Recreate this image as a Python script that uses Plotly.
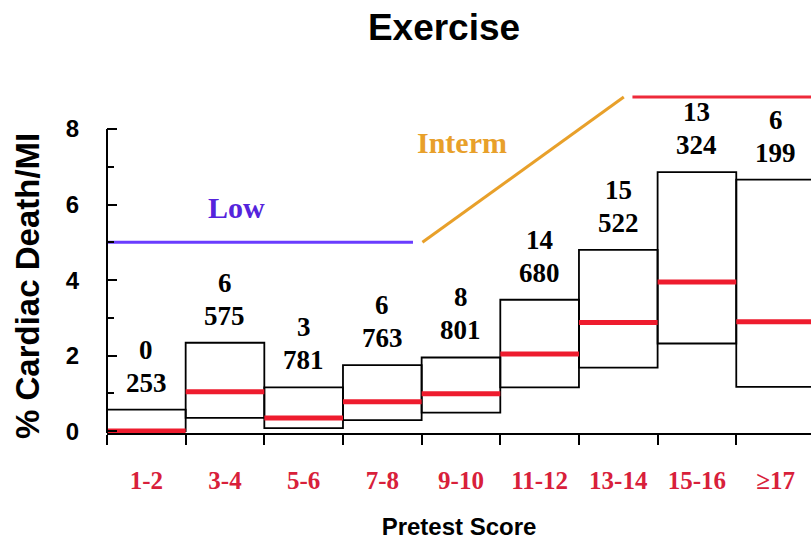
import plotly.graph_objects as go

# ---- data ----
categories = ["1-2", "3-4", "5-6", "7-8", "9-10", "11-12", "13-14", "15-16", "≥17"]
events = [0, 6, 3, 6, 8, 14, 15, 13, 6]
patients = [253, 575, 781, 763, 801, 680, 522, 324, 199]
rate = [0.0, 1.04, 0.35, 0.78, 0.99, 2.04, 2.88, 3.95, 2.90]
ci_lower = [0.0, 0.35, 0.08, 0.29, 0.49, 1.16, 1.68, 2.32, 1.17]
ci_upper = [0.57, 2.34, 1.16, 1.75, 1.95, 3.48, 4.80, 6.86, 6.66]

risk_names = ["Low", "Interm", "High"]
risk_x = [[-0.5, 3.39], [3.51, 6.07], [6.18, 8.45]]
risk_y = [[5.0, 5.0], [5.0, 8.85], [8.85, 8.85]]
risk_label_x = [1.14, 4.01, 7.23]
risk_label_y = [5.92, 7.64, 9.63]
y_ticks = [0, 2, 4, 6, 8]
y_minor = [1, 3, 5, 7]
y_title = "% Cardiac Death/MI"
x_title = "Pretest Score"
chart_title = "Exercise"

# ---- styles ----
risk_line_colors = ["#6a3cff", "#e8a02a", "#ee2a3a"]
risk_text_colors = ["#5524dc", "#e8a02a", "#cc1f3a"]
RED = "#ee1c2e"
SERIF = "Liberation Serif"
SANS = "Liberation Sans"

idx = list(range(len(categories)))
fig = go.Figure()

# CI boxes
fig.add_trace(go.Bar(
    x=idx,
    y=[u - l for u, l in zip(ci_upper, ci_lower)],
    base=ci_lower,
    width=1,
    marker=dict(color="rgba(0,0,0,0)", line=dict(color="black", width=1.8)),
    hoverinfo="skip",
))

# point estimates (red lines)
rx, ry = [], []
for i, r in zip(idx, rate):
    rx += [i - 0.5, i + 0.5, None]
    ry += [r, r, None]
fig.add_trace(go.Scatter(x=rx, y=ry, mode="lines",
                         line=dict(color=RED, width=5), hoverinfo="skip"))

# risk group lines
for name, xs, ys, c in zip(risk_names, risk_x, risk_y, risk_line_colors):
    fig.add_trace(go.Scatter(x=xs, y=ys, mode="lines",
                             line=dict(color=c, width=3), hoverinfo="skip"))

annotations = []
for name, lx, ly, c in zip(risk_names, risk_label_x, risk_label_y, risk_text_colors):
    annotations.append(dict(x=lx, y=ly, xref="x", yref="y", text=name,
                            showarrow=False,
                            font=dict(family=SERIF, size=30, color=c, weight="bold")))

for i, e, n, u in zip(idx, events, patients, ci_upper):
    annotations.append(dict(x=i, y=u, xref="x", yref="y", text=str(n),
                            showarrow=False, yanchor="middle", yshift=27,
                            font=dict(family=SERIF, size=27, color="black", weight="bold")))
    annotations.append(dict(x=i, y=u, xref="x", yref="y", text=str(e),
                            showarrow=False, yanchor="middle", yshift=60,
                            font=dict(family=SERIF, size=27, color="black", weight="bold")))

# y-axis title (placed as rotated text, slightly below the plot's centre as in the original)
annotations.append(dict(x=-80 / 704, y=147 / 353, xref="paper", yref="paper",
                        text=y_title, textangle=-90, showarrow=False,
                        xanchor="center", yanchor="middle",
                        font=dict(family=SANS, size=33, color="black", weight="bold")))

fig.update_layout(
    width=811, height=550,
    margin=dict(l=107, r=0, t=80, b=117),
    paper_bgcolor="white", plot_bgcolor="white",
    showlegend=False, hovermode=False,
    title=dict(text=chart_title, x=444 / 811, xanchor="center", y=1 - 27 / 550,
               yanchor="middle", automargin=False,
               font=dict(family=SANS, size=37, color="black", weight="bold")),
    annotations=annotations,
    shapes=[dict(type="line", xref="paper", x0=0, x1=0, yref="y",
                 y0=-0.05, y1=y_ticks[-1], line=dict(color="black", width=2))],
    xaxis=dict(
        range=[-0.5, 8.45], automargin=False,
        tickmode="array", tickvals=idx, ticktext=categories, ticks="",
        tickfont=dict(family=SERIF, size=25, color="#d8203a", weight="bold"),
        ticklabelstandoff=24,
        showline=True, linecolor="black", linewidth=2,
        showgrid=False, zeroline=False,
        minor=dict(tickvals=[i - 0.5 for i in idx], ticks="outside", ticklen=10,
                   tickwidth=2, tickcolor="black", showgrid=False),
        title=dict(text=x_title, standoff=25,
                   font=dict(family=SANS, size=24, color="black", weight="bold")),
    ),
    yaxis=dict(
        range=[-0.05, 9.3], automargin=False,
        tickmode="array", tickvals=y_ticks, ticks="inside", ticklen=10,
        tickwidth=2, tickcolor="black",
        tickfont=dict(family=SANS, size=24, color="black", weight="bold"),
        ticklabelstandoff=27,
        showline=False, showgrid=False, zeroline=False,
        minor=dict(tickvals=y_minor, ticks="inside", ticklen=7, tickwidth=2,
                   tickcolor="black", showgrid=False),
    ),
)

fig.write_html("out.html",
               config={"displayModeBar": False, "staticPlot": True},
               post_script="document.body.style.margin='0px';"
                           "document.body.style.overflow='hidden';")
